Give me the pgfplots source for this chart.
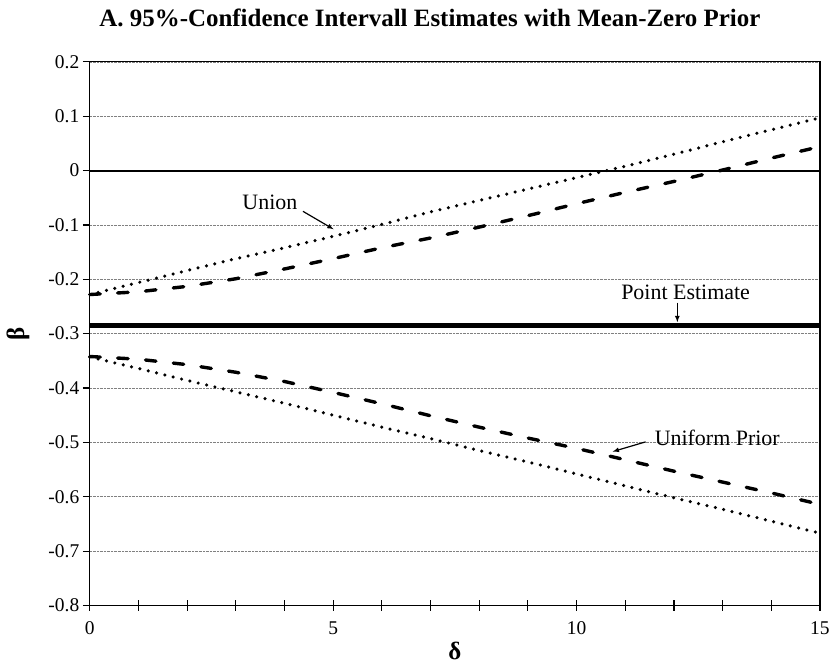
\documentclass[border=0pt]{standalone}
\usepackage{fontspec}
\setmainfont{Liberation Serif}
\usepackage{pgfplots}
\pgfplotsset{compat=1.18}
\pgfplotstableread{
d up lo
0 -0.228 -0.343
1 -0.206 -0.364
2 -0.184 -0.386
3 -0.162 -0.407
4 -0.142 -0.428
5 -0.121 -0.450
6 -0.099 -0.472
7 -0.076 -0.493
8 -0.055 -0.515
9 -0.034 -0.536
10 -0.013 -0.558
11 0.008 -0.580
12 0.030 -0.602
13 0.053 -0.623
14 0.075 -0.645
15 0.097 -0.667
}\union
\pgfplotstableread{
d up lo
0 -0.228 -0.342
1 -0.223 -0.347
2 -0.213 -0.357
3 -0.199 -0.371
4 -0.181 -0.388
5 -0.162 -0.408
6 -0.142 -0.429
7 -0.124 -0.451
8 -0.104 -0.472
9 -0.083 -0.492
10 -0.061 -0.511
11 -0.040 -0.532
12 -0.020 -0.553
13 0.001 -0.573
14 0.023 -0.593
15 0.044 -0.614
}\uniform
\begin{document}
\begin{tikzpicture}
\begin{axis}[
  scale only axis, width=732pt, height=545pt,
  xmin=0, xmax=15, ymin=-0.8, ymax=0.2,
  axis line style={line width=1.3pt},
  tick style={black, line width=1.2pt},
  tick align=outside,
  xtick pos=bottom, ytick pos=left,
  major tick length=7pt, minor tick length=4pt,
  xtick=\empty,
  minor xtick={0.5,1.5,...,14.5},
  every minor tick/.append style={yshift=4pt},
  extra x ticks={0,1,...,15},
  extra x tick labels={0,,,,,5,,,,,10,,,,,15},
  extra x tick style={major tick length=11pt, every major tick/.append style={yshift=5.5pt}, xticklabel style={yshift=-2pt}},
  ytick={-0.8,-0.7,-0.6,-0.5,-0.4,-0.3,-0.2,-0.1,0,0.1,0.2},
  yticklabels={-0.8,-0.7,-0.6,-0.5,-0.4,-0.3,-0.2,-0.1,0,0.1,0.2},
  ticklabel style={font=\fontsize{19.5}{21}\selectfont},
  ymajorgrids,
  grid style={densely dotted, gray, line width=0.6pt},
  clip=false,
]
\addplot[black, line width=2pt] coordinates {(0,0) (15,0)};
\addplot[black, line width=4.5pt] coordinates {(0,-0.285) (15,-0.285)};
\addplot[black, line width=3.5pt, line cap=round, dash pattern=on 0pt off 8.6pt] table[x=d,y=up] {\union};
\addplot[black, line width=3.5pt, line cap=round, dash pattern=on 0pt off 8.6pt] table[x=d,y=lo] {\union};
\addplot[black, line width=3.4pt, line cap=round, dash pattern=on 10.5pt off 17.5pt] table[x=d,y=up] {\uniform};
\addplot[black, line width=3.4pt, line cap=round, dash pattern=on 10.5pt off 17.5pt] table[x=d,y=lo] {\uniform};
\node[font=\fontsize{22}{24}\selectfont] at (axis cs:3.7,-0.059) {Union};
\draw[-latex, line width=1.2pt] (axis cs:4.38,-0.075) -- (axis cs:5.01,-0.108);
\node[font=\fontsize{22}{24}\selectfont, fill=white, inner sep=1pt] at (axis cs:12.24,-0.2247) {Point Estimate};
\draw[-latex, line width=1.2pt] (axis cs:12.07,-0.243) -- (axis cs:12.07,-0.279);
\node[font=\fontsize{22}{24}\selectfont] at (axis cs:12.89,-0.491) {Uniform Prior};
\draw[-latex, line width=1.2pt] (axis cs:11.42,-0.499) -- (axis cs:10.74,-0.517);
\end{axis}
\node[font=\bfseries\fontsize{25}{28}\selectfont] at ([xshift=-25pt, yshift=44pt]current axis.north) {A. 95\%-Confidence Intervall Estimates with Mean-Zero Prior};
\node[font=\bfseries\fontsize{25}{28}\selectfont] at ([yshift=-46pt]current axis.south) {δ};
\node[font=\bfseries\fontsize{25}{28}\selectfont, rotate=90] at ([xshift=-72pt]current axis.west) {β};
\useasboundingbox ([shift={(-90pt,-59pt)}]current axis.south west) rectangle ([shift={(11pt,62pt)}]current axis.north east);
\end{tikzpicture}
\end{document}
